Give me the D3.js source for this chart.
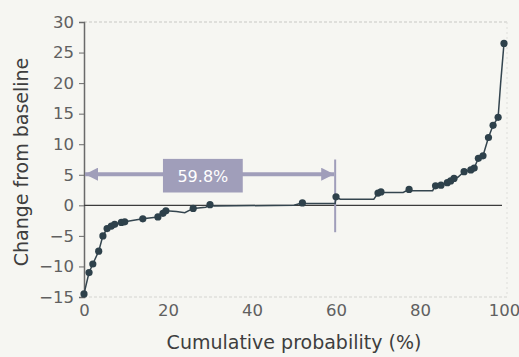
<!DOCTYPE html>
<html>
<head>
<meta charset="utf-8">
<script src="https://cdn.jsdelivr.net/npm/d3@7"></script>
<style>
  html, body { margin: 0; padding: 0; background: #f6f6f2; }
  svg { display: block; font-family: "DejaVu Sans", sans-serif; }
</style>
</head>
<body>
<div id="chart"></div>
<script>
// Cumulative curve (percentile, change from baseline)
const linePct = [0, 1.2, 2.1, 3.5, 4.5, 5.5, 7.3, 8.9, 9.7, 14.0, 17.6, 18.8, 19.5, 22, 24, 26, 29, 30, 31,
    50, 52, 53, 59.8, 60, 61, 69, 70, 71, 76, 77.4, 78, 83, 83.7, 85, 86.5, 87.3, 88.1, 89,
    90.5, 92.1, 92.9, 93.9, 95, 96.3, 97.4, 98.6, 99.2, 100];
const lineVal = [-14.5, -11.0, -9.6, -7.5, -5.0, -3.8, -3.1, -2.8, -2.7, -2.2, -1.9, -1.3, -0.9, -1.0, -1.2, -0.5, -0.3, 0.1, -0.1,
    0, 0.4, 0.3, 0.3, 1.4, 1.0, 1.0, 2.0, 2.1, 2.1, 2.6, 2.4, 2.4, 3.2, 3.3, 3.7, 4.0, 4.4, 4.6,
    5.5, 5.8, 6.1, 7.7, 8.1, 11.1, 13.1, 14.4, 20, 26.5];

// Marked points
const dotPct = [0, 1.2, 2.1, 3.5, 4.5, 5.5, 6.5, 7.3, 8.9, 9.7, 14.0, 17.6, 18.8, 19.5, 26, 30,
    52, 60, 70, 70.7, 77.4, 83.7, 85, 86.5, 87.3, 88.1, 90.5, 92.1, 92.9, 93.9, 95, 96.3, 97.4, 98.6, 100];
const dotVal = [-14.5, -11.0, -9.6, -7.5, -5.0, -3.8, -3.4, -3.1, -2.8, -2.7, -2.2, -1.9, -1.3, -0.9, -0.5, 0.1,
    0.4, 1.4, 2.0, 2.2, 2.6, 3.2, 3.3, 3.7, 4.0, 4.4, 5.5, 5.8, 6.1, 7.7, 8.1, 11.1, 13.1, 14.4, 26.5];

const xTicks = [0, 20, 40, 60, 80, 100];
const yTicks = [-15, -10, -5, 0, 5, 10, 15, 20, 25, 30];
const markPct = 59.8;
const markLabel = "59.8%";

const W = 519, H = 357;
const svg = d3.select("#chart").append("svg")
    .attr("width", W).attr("height", H);

svg.append("rect").attr("width", W).attr("height", H).attr("fill", "#f6f6f2");

const x = d3.scaleLinear().domain([0, 100]).range([84, 504]);
const y = d3.scaleLinear().domain([-15, 30]).range([297, 22]);

// faint frame
svg.append("line")
    .attr("x1", x(0)).attr("x2", x(100) + 3)
    .attr("y1", y(30)).attr("y2", y(30))
    .attr("stroke", "#c8c8c4").attr("stroke-width", 1).attr("stroke-dasharray", "3,2");
svg.append("line")
    .attr("x1", x(0)).attr("x2", x(100) + 3)
    .attr("y1", y(-15)).attr("y2", y(-15))
    .attr("stroke", "#d4d4d0").attr("stroke-width", 1).attr("stroke-dasharray", "3,2");
svg.append("line")
    .attr("x1", x(100) + 3).attr("x2", x(100) + 3)
    .attr("y1", y(30)).attr("y2", y(-15))
    .attr("stroke", "#dededa").attr("stroke-width", 1).attr("stroke-dasharray", "2,3");

// y axis
const yAxis = svg.append("g")
    .attr("transform", `translate(${x(0)},0)`)
    .call(d3.axisLeft(y).tickValues(yTicks).tickSize(5).tickPadding(5));
yAxis.select(".domain").attr("stroke", "#6a6a6a").attr("stroke-width", 1.5);
yAxis.selectAll(".tick line").attr("stroke", "#6a6a6a");
yAxis.selectAll("text").attr("font-size", 16.5).attr("fill", "#606060")
    .attr("font-family", "DejaVu Sans, sans-serif");

// x axis labels only
const xAxis = svg.append("g")
    .attr("transform", `translate(0,${y(-15)})`)
    .call(d3.axisBottom(x).tickValues(xTicks).tickSize(0).tickPadding(7));
xAxis.select(".domain").remove();
xAxis.selectAll("text").attr("font-size", 16.5).attr("fill", "#606060")
    .attr("font-family", "DejaVu Sans, sans-serif");

// zero line
svg.append("line")
    .attr("x1", x(0)).attr("x2", x(100) - 2)
    .attr("y1", y(0)).attr("y2", y(0))
    .attr("stroke", "#3c3c3c").attr("stroke-width", 1.3);

// titles
svg.append("text")
    .attr("x", 294).attr("y", 349)
    .attr("text-anchor", "middle")
    .attr("font-size", 19).attr("fill", "#3e3e3e")
    .text("Cumulative probability (%)");
svg.append("text")
    .attr("transform", "translate(28,162) rotate(-90)")
    .attr("text-anchor", "middle")
    .attr("font-size", 19).attr("fill", "#3e3e3e")
    .text("Change from baseline");

// 59.8% marker
const markColor = "#a09eba";
svg.append("line")
    .attr("x1", x(markPct)).attr("x2", x(markPct))
    .attr("y1", y(7.5)).attr("y2", y(-4.4))
    .attr("stroke", markColor).attr("stroke-width", 2);

const defs = svg.append("defs");
defs.append("marker")
    .attr("id", "head").attr("viewBox", "0 0 10 10")
    .attr("refX", 10).attr("refY", 5)
    .attr("markerUnits", "userSpaceOnUse")
    .attr("markerWidth", 14).attr("markerHeight", 13)
    .attr("orient", "auto-start-reverse")
    .append("path").attr("d", "M0,0 L10,5 L0,10 Z").attr("fill", markColor);

svg.append("line")
    .attr("x1", x(0) + 1).attr("x2", x(markPct) - 1)
    .attr("y1", y(5.1)).attr("y2", y(5.1))
    .attr("stroke", markColor).attr("stroke-width", 4)
    .attr("marker-start", "url(#head)").attr("marker-end", "url(#head)");

svg.append("rect")
    .attr("x", x(18.8)).attr("y", y(7.6))
    .attr("width", x(37.8) - x(18.8)).attr("height", y(2.1) - y(7.6))
    .attr("fill", markColor);
svg.append("text")
    .attr("x", (x(18.8) + x(37.8)) / 2).attr("y", y(4.85) + 6)
    .attr("text-anchor", "middle")
    .attr("font-size", 16).attr("fill", "#ffffff")
    .text(markLabel);

// curve
const pts = linePct.map((p, i) => [p, lineVal[i]]);
svg.append("path")
    .datum(pts)
    .attr("fill", "none")
    .attr("stroke", "#34454f")
    .attr("stroke-width", 1.5)
    .attr("d", d3.line().x(d => x(d[0])).y(d => y(d[1])));

svg.selectAll("circle.dot")
    .data(dotPct.map((p, i) => [p, dotVal[i]]))
    .enter().append("circle")
    .attr("class", "dot")
    .attr("cx", d => x(d[0]))
    .attr("cy", d => y(d[1]))
    .attr("r", 3.6)
    .attr("fill", "#2e414b");
</script>
</body>
</html>
